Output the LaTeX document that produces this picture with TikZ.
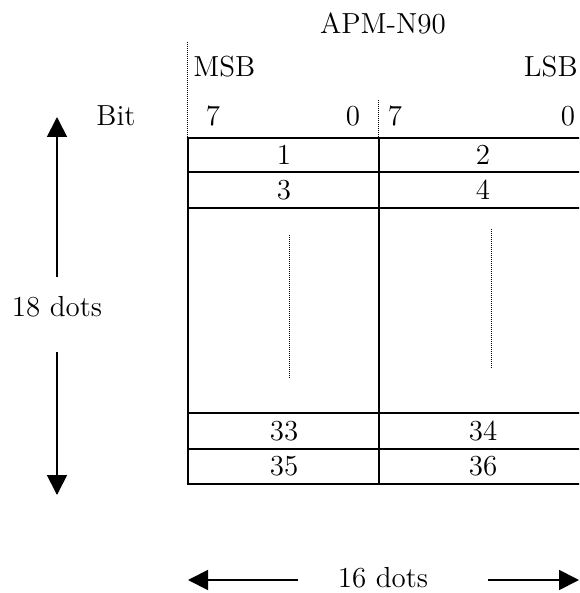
\documentclass[tikz,border=0pt]{standalone}
\usetikzlibrary{arrows.meta}
\begin{document}
\begin{tikzpicture}[x=0.5pt,y=-0.5pt,
  txt/.style={inner sep=0pt,font=\fontsize{14.5}{17}\selectfont},
  tbl/.style={line width=1.3pt},
  dotl/.style={line width=0.5pt,dash pattern=on 0.5pt off 0.5pt},
  dimarrow/.style={line width=0.9pt,-{Triangle[width=10pt,length=10pt]}}]
\useasboundingbox (0,0) rectangle (579,593);
\clip (0,0) rectangle (579,593);
% titles
\node[txt] (title) at (383,23) {APM-N90};
\node[txt,anchor=west] (msb) at (193,67) {MSB};
\node[txt,anchor=east] (lsb) at (578,67) {LSB};
\node[txt] (bit) at (116,116) {Bit};
\node[txt] (b7a) at (213,116) {7};
\node[txt] (b0a) at (353,116) {0};
\node[txt] (b7b) at (395,116) {7};
\node[txt] (b0b) at (568,116) {0};
% dotted guides
\coordinate (dl1) at (187,42);
\coordinate (dl2) at (187,138);
\coordinate (dm1) at (378,100);
\coordinate (dm2) at (378,138);
\draw[dotl] (dl1) -- (dl2);
\draw[dotl] (dm1) -- (dm2);
% table
\draw[tbl] (590,138) -- (188,138) -- (188,484) -- (590,484);
\foreach \y in {172,208,413,449} \draw[tbl] (188,\y) -- (590,\y);
\draw[tbl] (379,138) -- (379,484);
\node[txt] (c1) at (284,155) {1};
\node[txt] (c2) at (483,155) {2};
\node[txt] (c3) at (284,190) {3};
\node[txt] (c4) at (483,190) {4};
\node[txt] (c33) at (284,431) {33};
\node[txt] (c34) at (483,431) {34};
\node[txt] (c35) at (284,466) {35};
\node[txt] (c36) at (483,466) {36};
\draw[dotl] (289,235) -- (289,379);
\draw[dotl] (491,229) -- (491,369);
% 18 dots
\node[txt] (h18) at (57,307) {18 dots};
\coordinate (upS) at (57,277);
\coordinate (upT) at (57,117);
\coordinate (dnS) at (57,352);
\coordinate (dnT) at (57,495);
\draw[dimarrow] (upS) -- (upT);
\draw[dimarrow] (dnS) -- (dnT);
% 16 dots
\node[txt] (w16) at (383,578) {16 dots};
\coordinate (lfS) at (298,580);
\coordinate (lfT) at (188,580);
\coordinate (rtS) at (488,580);
\coordinate (rtT) at (579,580);
\draw[dimarrow] (lfS) -- (lfT);
\draw[dimarrow] (rtS) -- (rtT);
\end{tikzpicture}
\end{document}
